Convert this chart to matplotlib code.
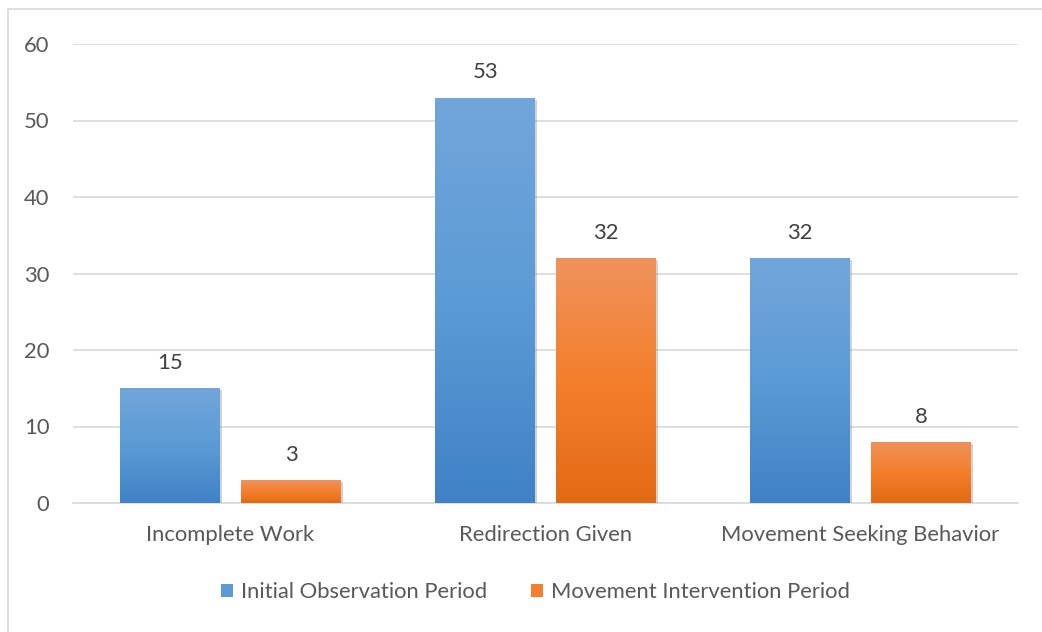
import matplotlib
matplotlib.use("Agg")
import matplotlib.pyplot as plt
import numpy as np
from matplotlib.patches import Rectangle
from matplotlib.colors import LinearSegmentedColormap
import matplotlib.patheffects as pe

categories = ["Incomplete Work", "Redirection Given", "Movement Seeking Behavior"]
series_names = ["Initial Observation Period", "Movement Intervention Period"]
initial_values = [15, 53, 32]
intervention_values = [3, 32, 8]
yticks = [0, 10, 20, 30, 40, 50, 60]

plt.rcParams['font.family'] = ['Lato', 'DejaVu Sans']
text_col = "#595959"
grid_col = "#d9d9d9"
fs = 15.8

fig = plt.figure(figsize=(10.42, 6.32), dpi=100)
ax = fig.add_axes([73/1042, 129/632, 945/1042, 459/632])

# outer frame (only top/left visible in the reference)
fig.patches.append(Rectangle((8/1042, -0.1), 2.0, (632-9)/632 + 0.1,
                             transform=fig.transFigure, fill=False,
                             edgecolor=grid_col, linewidth=1.2))

x = np.arange(len(categories))
w = 0.317
off = 0.192

grads = [
    LinearSegmentedColormap.from_list("b", ["#3f82c6", "#5b9bd5", "#72a6db"]),
    LinearSegmentedColormap.from_list("o", ["#e36a15", "#f47f2c", "#f0925c"]),
]
mids = ["#5b9bd5", "#f47f2c"]

grad = np.linspace(0, 1, 256).reshape(-1, 1)
for si, (vals, sign) in enumerate([(initial_values, -1), (intervention_values, 1)]):
    bars = ax.bar(x + sign * off, vals, width=w, color=mids[si], zorder=3,
                  label=series_names[si], linewidth=0)
    for b, v in zip(bars, vals):
        b.set_path_effects([pe.SimplePatchShadow(offset=(1.5, -1.5), alpha=0.35,
                                                 shadow_rgbFace="#7f7f7f"),
                            pe.Normal()])
        x0, y0 = b.get_x(), b.get_y()
        bw, bh = b.get_width(), b.get_height()
        im = ax.imshow(grad, extent=[x0, x0 + bw, y0, y0 + bh], origin="lower",
                       cmap=grads[si], aspect="auto", zorder=3.5,
                       interpolation="bilinear")
        im.set_clip_path(b)
        ax.annotate(str(v), (x0 + bw / 2, y0 + bh),
                    xytext=(0, 11), textcoords="offset points",
                    ha="center", va="bottom", fontsize=fs, color="#404040")

ax.set_xlim(-0.5, 2.5)
ax.set_ylim(0, 60)
ax.set_yticks(yticks)
ax.set_xticks(x)
ax.set_xticklabels(categories)
ax.tick_params(axis="both", length=0, labelsize=fs, colors=text_col)
ax.tick_params(axis="y", pad=17)
ax.tick_params(axis="x", pad=16)
ax.yaxis.grid(True, color=grid_col, linewidth=1.2, zorder=0)
ax.set_axisbelow(True)
for s in ["top", "right", "left"]:
    ax.spines[s].set_visible(False)
ax.spines["bottom"].set_color(grid_col)
ax.spines["bottom"].set_linewidth(1.2)

leg = fig.legend(loc="center", bbox_to_anchor=(0.514, 0.063), ncol=2, frameon=False,
                 fontsize=fs, handlelength=0.55, handleheight=0.55, handletextpad=0.35,
                 columnspacing=2.0, labelcolor=text_col)
for h in leg.legend_handles:
    h.set_path_effects([])

fig.savefig("out.png", dpi=100, facecolor="white")
